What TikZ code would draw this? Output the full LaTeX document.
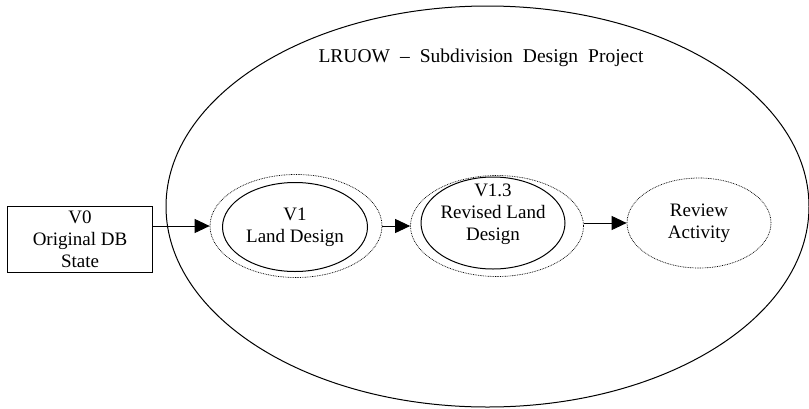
\documentclass[tikz,border=0pt]{standalone}
\usepackage{fontspec}
\setmainfont{Liberation Serif}
\usetikzlibrary{positioning, arrows.meta, shapes.geometric}

\begin{document}
\begin{tikzpicture}[x=1pt, y=-1pt, font=\fontsize{19}{22}\selectfont,
		box/.style={rectangle, draw, line width=0.9pt, align=center, minimum width=145pt, minimum height=66pt},
		ell/.style={ellipse, draw, line width=1pt, inner sep=0pt, align=center},
		dots/.style={ellipse, draw, line width=0.7pt, dash pattern=on 0.8pt off 0.9pt, inner sep=0pt, align=center},
		arr/.style={-{Triangle[length=15pt, width=14pt]}, line width=0.9pt}]
		\useasboundingbox (0,0) rectangle (809,408);

		\node[ell, minimum width=643pt, minimum height=401pt] (proj) at (487.5,206.5) {};
		\node[font=\fontsize{19.5}{22}\selectfont] (title) at (481,58) {\spaceskip=10pt\relax LRUOW -- Subdivision Design Project};

		\node[box] (v0) at (80,239) {V0\\Original DB\\State};

		\node[dots, minimum width=172pt, minimum height=103pt] (v1o) at (296,226) {};
		\node[ell, minimum width=145pt, minimum height=89pt] (v1) at (295,227) {V1\\Land Design};

		\node[dots, minimum width=173pt, minimum height=101pt] (v13o) at (497,226) {};
		\node[ell, minimum width=144pt, minimum height=92pt] (v13) at (493,223) {};
		\node[align=center] (v13t) at (493,214) {V1.3\\Revised Land\\Design};

		\node[dots, minimum width=144pt, minimum height=90pt] (rev) at (699,223) {Review\\Activity};

		\draw[arr] (v0.east |- v1o.west) -- (v1o.west);
		\draw[arr] (v1o.east) -- (v13o.west);
		\draw[arr] (v13o.east |- rev.west) -- (rev.west);
	\end{tikzpicture}
\end{document}
